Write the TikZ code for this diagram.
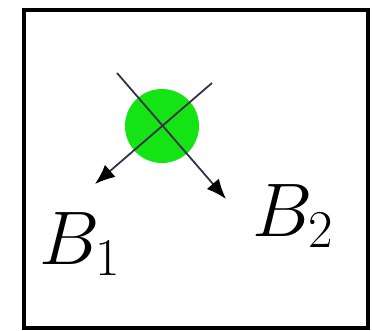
\documentclass[tikz,border=0pt]{standalone}
\usepackage{fix-cm}
\usepackage{tikz}
\usetikzlibrary{arrows.meta}

\definecolor{ballgreen}{RGB}{20,228,20}
\definecolor{rayline}{RGB}{60,45,75}

\begin{document}
\begin{tikzpicture}[
    x=0.5pt, y=-0.5pt,
    frame/.style={draw=black, line width=2pt},
    ball/.style={circle, fill=ballgreen, minimum size=37pt, inner sep=0pt},
    ray/.style={draw=rayline, line width=0.9pt, -{Latex[length=10pt, width=8pt, fill=black, color=black]}},
    lab/.style={inner sep=0pt, font=\fontsize{38}{40}\selectfont}
]
\useasboundingbox (0,0) rectangle (372,331);
\draw[frame] (24,10) rectangle (368,328);

\node[ball] (ball) at (162,126) {};

\coordinate (s1) at (212,83);
\coordinate (e1) at (95,184);
\coordinate (s2) at (117,73);
\coordinate (e2) at (226,199);

\draw[ray] (s1) -- (e1);
\draw[ray] (s2) -- (e2);

\node[lab] (b1) at (80,244) {$B_1$};
\node[lab] (b2) at (293,216) {$B_2$};
\end{tikzpicture}
\end{document}
